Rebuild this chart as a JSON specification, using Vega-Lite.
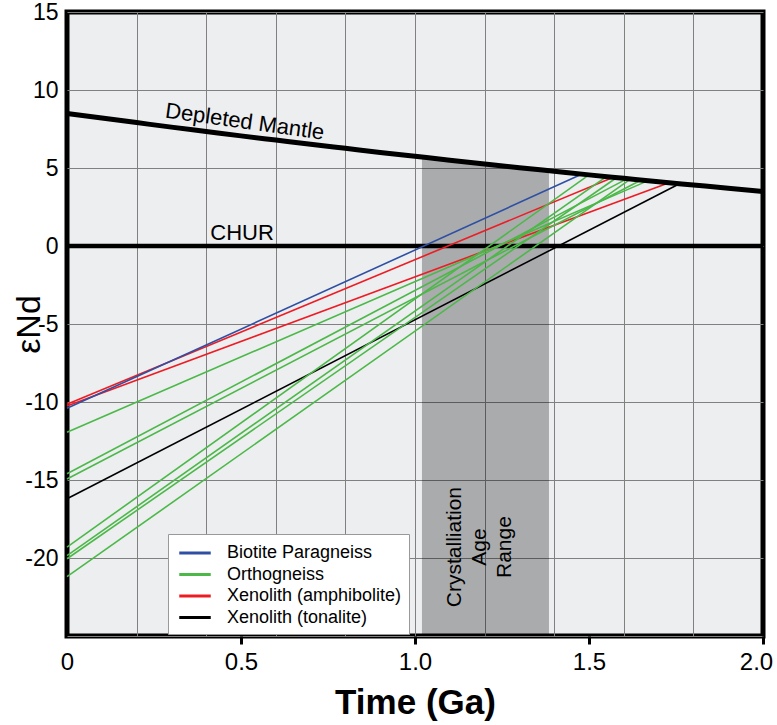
{
  "$schema": "https://vega.github.io/schema/vega-lite/v6.json",
  "width": 696,
  "height": 624,
  "autosize": "none",
  "padding": {"left": 67, "top": 12, "right": 14, "bottom": 89},
  "background": "white",
  "config": {
    "view": {"fill": "#eceef0", "stroke": "black", "strokeWidth": 5},
    "font": "Liberation Sans"
  },
  "datasets": {
    "dm": [
      {"t": 0.0, "e": 8.5}, {"t": 0.1, "e": 8.2}, {"t": 0.2, "e": 7.91}, {"t": 0.3, "e": 7.62},
      {"t": 0.4, "e": 7.34}, {"t": 0.5, "e": 7.06}, {"t": 0.6, "e": 6.79}, {"t": 0.7, "e": 6.52},
      {"t": 0.8, "e": 6.26}, {"t": 0.9, "e": 6.0}, {"t": 1.0, "e": 5.75}, {"t": 1.1, "e": 5.5},
      {"t": 1.2, "e": 5.26}, {"t": 1.3, "e": 5.02}, {"t": 1.4, "e": 4.79}, {"t": 1.5, "e": 4.56},
      {"t": 1.6, "e": 4.34}, {"t": 1.7, "e": 4.12}, {"t": 1.8, "e": 3.91}, {"t": 1.9, "e": 3.7},
      {"t": 2.0, "e": 3.5}
    ],
    "shade": [
      {"t": 1.02, "e": 5.7}, {"t": 1.1, "e": 5.5}, {"t": 1.2, "e": 5.26}, {"t": 1.3, "e": 5.02}, {"t": 1.385, "e": 4.82}
    ],
    "chur": [
      {"t": 0, "e": 0}, {"t": 2, "e": 0}
    ],
    "samples": [
      {"id": "r1", "group": "Xenolith (amphibolite)", "t": 0, "e": -10.15},
      {"id": "r1", "group": "Xenolith (amphibolite)", "t": 1.57, "e": 4.41},
      {"id": "r2", "group": "Xenolith (amphibolite)", "t": 0, "e": -10.25},
      {"id": "r2", "group": "Xenolith (amphibolite)", "t": 1.73, "e": 4.06},
      {"id": "k1", "group": "Xenolith (tonalite)", "t": 0, "e": -16.2},
      {"id": "k1", "group": "Xenolith (tonalite)", "t": 1.76, "e": 3.99},
      {"id": "b1", "group": "Biotite Paragneiss", "t": 0, "e": -10.4},
      {"id": "b1", "group": "Biotite Paragneiss", "t": 1.48, "e": 4.61},
      {"id": "g1", "group": "Orthogneiss", "t": 0, "e": -11.94},
      {"id": "g1", "group": "Orthogneiss", "t": 1.67, "e": 4.19},
      {"id": "g2", "group": "Orthogneiss", "t": 0, "e": -14.6},
      {"id": "g2", "group": "Orthogneiss", "t": 1.61, "e": 4.32},
      {"id": "g3", "group": "Orthogneiss", "t": 0, "e": -14.94},
      {"id": "g3", "group": "Orthogneiss", "t": 1.65, "e": 4.23},
      {"id": "g4", "group": "Orthogneiss", "t": 0, "e": -19.3},
      {"id": "g4", "group": "Orthogneiss", "t": 1.5, "e": 4.56},
      {"id": "g5", "group": "Orthogneiss", "t": 0, "e": -19.85},
      {"id": "g5", "group": "Orthogneiss", "t": 1.55, "e": 4.45},
      {"id": "g6", "group": "Orthogneiss", "t": 0, "e": -20.05},
      {"id": "g6", "group": "Orthogneiss", "t": 1.58, "e": 4.39},
      {"id": "g7", "group": "Orthogneiss", "t": 0, "e": -21.2},
      {"id": "g7", "group": "Orthogneiss", "t": 1.62, "e": 4.3}
    ],
    "labels": [
      {"t": 0.511, "e": 7.97, "label": "Depleted Mantle", "kind": "dm"},
      {"t": 0.503, "e": 0.85, "label": "CHUR", "kind": "chur"}
    ],
    "crys": [
      {"t": 1.115, "e": -19.3, "label": "Crystalliation\nAge\nRange"}
    ]
  },
  "encoding": {
    "x": {
      "field": "t",
      "type": "quantitative",
      "scale": {"domain": [0, 2], "nice": false, "zero": false},
      "axis": {
        "values": [0, 0.2, 0.4, 0.5, 0.6, 0.8, 1, 1.2, 1.4, 1.5, 1.6, 1.8, 2],
        "grid": true,
        "gridColor": "#808080",
        "gridWidth": 1,
        "gridOpacity": {"condition": {"test": "datum.value==0.5||datum.value==1.5||datum.value==0||datum.value==2", "value": 0}, "value": 1},
        "ticks": true,
        "tickSize": 8,
        "tickWidth": 3,
        "tickColor": "black",
        "tickOpacity": {"condition": {"test": "datum.value==0.5||datum.value==1||datum.value==1.5||datum.value==2", "value": 1}, "value": 0},
        "labelExpr": "datum.value==0 ? '0' : (abs(datum.value*2-round(datum.value*2))<0.001 ? format(datum.value,'.1f') : '')",
        "labelFont": "Liberation Sans",
        "labelFontSize": 24,
        "labelColor": "black",
        "labelPadding": 6,
        "labelOffset": {"condition": {"test": "datum.value==2", "value": -7}, "value": 0},
        "labelFlush": false,
        "labelOverlap": false,
        "domain": false,
        "title": "Time (Ga)",
        "titleFont": "Liberation Sans",
        "titleFontSize": 35,
        "titleFontWeight": "bold",
        "titleColor": "black",
        "titleY": 66,
        "titleBaseline": "middle"
      }
    },
    "y": {
      "field": "e",
      "type": "quantitative",
      "scale": {"domain": [-25, 15], "nice": false, "zero": false},
      "axis": {
        "values": [-25, -20, -15, -10, -5, 0, 5, 10, 15],
        "grid": true,
        "gridColor": "#808080",
        "gridWidth": 1,
        "ticks": false,
        "tickSize": 0,
        "domain": false,
        "labelExpr": "datum.value==-25 ? '' : '' + datum.value",
        "labelFont": "Liberation Sans",
        "labelFontSize": 23,
        "labelColor": "black",
        "labelPadding": 9,
        "labelFlush": false,
        "labelOverlap": false,
        "title": "εNd",
        "titleFont": "Liberation Sans",
        "titleFontSize": 34,
        "titleFontWeight": "normal",
        "titleColor": "black",
        "titleX": -38,
        "titleY": 312,
        "titleBaseline": "middle",
        "titleAlign": "center"
      }
    }
  },
  "layer": [
    {
      "data": {"name": "shade"},
      "mark": {"type": "area", "color": "black", "opacity": 0.28},
      "encoding": {"y2": {"datum": -25}}
    },
    {
      "data": {"name": "chur"},
      "mark": {"type": "line", "color": "black", "strokeWidth": 4.5},
      "encoding": {}
    },
    {
      "data": {"name": "samples"},
      "mark": {"type": "line", "strokeWidth": 1.6},
      "encoding": {
        "detail": {"field": "id"},
        "color": {
          "field": "group",
          "type": "nominal",
          "scale": {
            "domain": ["Biotite Paragneiss", "Orthogneiss", "Xenolith (amphibolite)", "Xenolith (tonalite)"],
            "range": ["#2e4fa3", "#4cb848", "#ed1c24", "#000000"]
          },
          "legend": {
            "orient": "none",
            "legendX": 101,
            "legendY": 522,
            "title": null,
            "fillColor": "white",
            "strokeColor": "#999999",
            "padding": 7,
            "symbolType": "M-1.5,0H1.5",
            "symbolSize": 441,
            "symbolOffset": 8,
            "symbolStrokeWidth": 3,
            "labelFont": "Liberation Sans",
            "labelFontSize": 18,
            "labelColor": "black",
            "labelOffset": 20,
            "labelLimit": 400,
            "rowPadding": 0.5
          }
        }
      }
    },
    {
      "data": {"name": "dm"},
      "mark": {"type": "line", "color": "black", "strokeWidth": 5, "interpolate": "monotone"},
      "encoding": {}
    },
    {
      "data": {"name": "labels"},
      "mark": {"type": "text", "fontSize": 22, "color": "black", "align": "center", "baseline": "middle"},
      "encoding": {
        "text": {"field": "label"},
        "angle": {"condition": {"test": "datum.kind=='dm'", "value": 8}, "value": 0}
      }
    },
    {
      "data": {"name": "crys"},
      "mark": {"type": "text", "fontSize": 21, "color": "black", "align": "center", "baseline": "middle", "angle": 270, "lineBreak": "\n", "lineHeight": 25},
      "encoding": {"text": {"field": "label"}}
    }
  ]
}
